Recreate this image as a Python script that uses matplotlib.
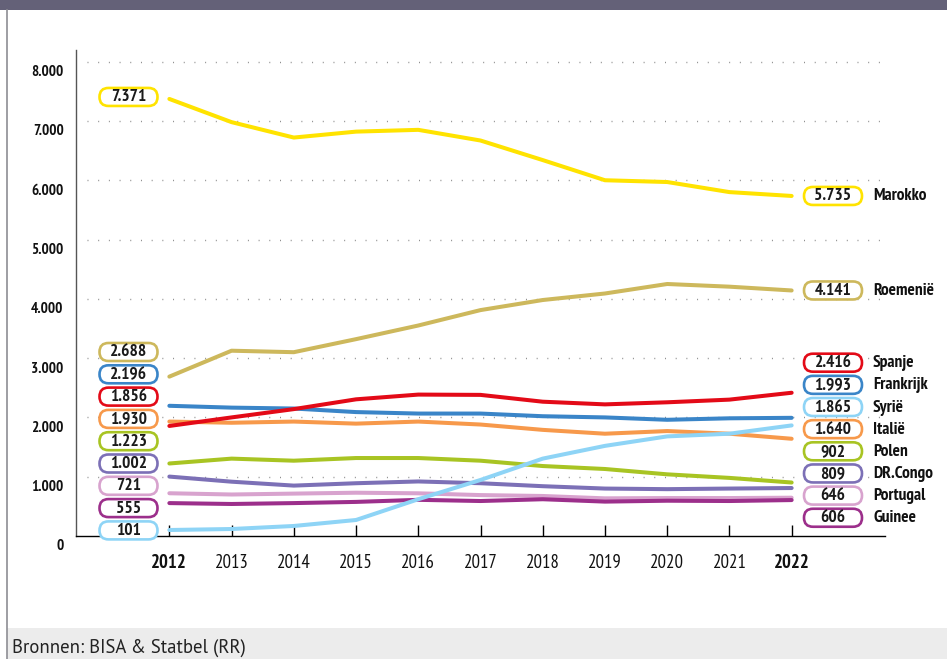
import matplotlib
matplotlib.use("Agg")
import matplotlib.pyplot as plt
from matplotlib.patches import FancyBboxPatch, Rectangle
from matplotlib.lines import Line2D
from matplotlib.transforms import IdentityTransform, ScaledTranslation

plt.rcParams['font.family'] = ['PT Sans Narrow', 'Roboto Condensed', 'DejaVu Sans']

years = list(range(2012, 2023))

marokko = [7371, 6980, 6720, 6820, 6850, 6670, 6340, 6000, 5970, 5800, 5735]
roemenie = [2688, 3125, 3100, 3320, 3550, 3810, 3980, 4090, 4250, 4205, 4141]
frankrijk = [2196, 2165, 2150, 2090, 2065, 2065, 2020, 2000, 1960, 1985, 1993]
italie = [1930, 1910, 1930, 1895, 1930, 1880, 1790, 1725, 1770, 1725, 1640]
spanje = [1856, 2000, 2140, 2305, 2385, 2380, 2265, 2220, 2255, 2300, 2416]
polen = [1223, 1305, 1270, 1315, 1315, 1270, 1180, 1130, 1040, 980, 902]
congo = [1002, 916, 850, 890, 920, 890, 840, 800, 790, 800, 809]
portugal = [721, 700, 715, 730, 720, 690, 675, 635, 640, 640, 646]
guinee = [555, 540, 555, 575, 610, 590, 620, 580, 595, 590, 606]
syrie = [101, 118, 169, 270, 620, 945, 1305, 1520, 1680, 1725, 1865]

# name -> (values, colour), in drawing order (last on top)
series = {
    "Marokko": (marokko, "#FFE300"),
    "Roemenië": (roemenie, "#CDB85C"),
    "Frankrijk": (frankrijk, "#3A85C8"),
    "Italië": (italie, "#F7994B"),
    "Spanje": (spanje, "#E30A17"),
    "Polen": (polen, "#A8C423"),
    "DR.Congo": (congo, "#7C70B6"),
    "Portugal": (portugal, "#D8A3CE"),
    "Guinee": (guinee, "#9C2F8B"),
    "Syrië": (syrie, "#8ED4F6"),
}

# stacked label order on each side
left_stack = ["Roemenië", "Frankrijk", "Spanje", "Italië", "Polen",
              "DR.Congo", "Portugal", "Guinee", "Syrië"]
right_stack = ["Spanje", "Frankrijk", "Syrië", "Italië", "Polen",
               "DR.Congo", "Portugal", "Guinee"]

yticks = [0, 1000, 2000, 3000, 4000, 5000, 6000, 7000, 8000]

W, H = 947, 659
fig = plt.figure(figsize=(W / 100, H / 100), dpi=100)
fig.patch.set_facecolor("white")

# frame decoration: header bar, left rule, footer band
fig.add_artist(Rectangle((0, H - 9.5), W, 9.5, transform=IdentityTransform(),
                         facecolor="#646178", edgecolor="none"))
fig.add_artist(Rectangle((7, 0), W - 7, 31, transform=IdentityTransform(),
                         facecolor="#ECECEC", edgecolor="none"))
fig.add_artist(Line2D([6.5, 6.5], [0, H - 9.5], transform=IdentityTransform(),
                      color="#8E8E94", lw=1.2))
fig.text(12, 6, "Bronnen: BISA & Statbel (RR)", transform=IdentityTransform(),
         fontsize=13.5, family=["PT Sans", "DejaVu Sans"], color="#222222",
         va="baseline")

ax = fig.add_axes([76 / W, (H - 536) / H, (885 - 76) / W, (536 - 49.8) / H])
ax.set_xlim(2010.5, 2023.5)
ax.set_ylim(0, 8200)

ax.hlines(yticks[1:], 2010.68, 2023.47, colors="#8C8C8C",
          linestyles=(0, (0.7, 7.0)), lw=1.0, zorder=1)

for name, (vals, col) in series.items():
    ax.plot(years, vals, color=col, lw=2.9, solid_capstyle="round",
            solid_joinstyle="round", zorder=3)

for side in ("top", "right"):
    ax.spines[side].set_visible(False)
ax.spines["left"].set_color("#555555")
ax.spines["left"].set_linewidth(1.0)
ax.spines["bottom"].set_color("black")
ax.spines["bottom"].set_linewidth(1.0)

ax.set_yticks(yticks)
ax.set_yticklabels([f"{v:,}".replace(",", ".") for v in yticks],
                   fontsize=11, fontweight="bold", color="#111111")
ax.tick_params(axis="y", length=0, pad=9)
shift = ScaledTranslation(0, -9 / 100, fig.dpi_scale_trans)
for lbl in ax.get_yticklabels():
    lbl.set_transform(lbl.get_transform() + shift)

ax.set_xticks(years)
ax.set_xticklabels([str(y) for y in years], fontsize=13.5, color="#111111")
for lbl in ax.get_xticklabels():
    if lbl.get_text() in ("2012", "2022"):
        lbl.set_fontweight("bold")
ax.tick_params(axis="x", direction="in", length=8, width=1.0, color="black", pad=13)


def fmt(v):
    return f"{v:,}".replace(",", ".")


def pill(xc, yc, text, color):
    w, h = 58, 18
    fig.add_artist(FancyBboxPatch((xc - w / 2, yc - h / 2), w, h,
                                  boxstyle="round,pad=0,rounding_size=9",
                                  transform=IdentityTransform(),
                                  facecolor="white", edgecolor=color, lw=1.9,
                                  zorder=5))
    fig.text(xc, yc - 0.5, text, transform=IdentityTransform(), ha="center",
             va="center", fontsize=12.5, fontweight="bold", color="#1a1a1a",
             zorder=6)


def to_px_y(v):
    return ax.transData.transform((2012, v))[1]


left_x, right_x, name_x = 128.5, 833, 873

# Marokko and Roemenië labelled at their own values
vals, col = series["Marokko"]
pill(left_x, to_px_y(vals[0]) + 2, fmt(vals[0]), col)
for name in ("Marokko", "Roemenië"):
    vals, col = series[name]
    yc = to_px_y(vals[-1])
    pill(right_x, yc, fmt(vals[-1]), col)
    fig.text(name_x, yc - 0.5, name, transform=IdentityTransform(), ha="left",
             va="center", fontsize=12.5, fontweight="bold", color="#111111")

# stacked labels
for i, name in enumerate(left_stack):
    vals, col = series[name]
    pill(left_x, H - (352 + 22.3 * i), fmt(vals[0]), col)

for i, name in enumerate(right_stack):
    vals, col = series[name]
    yc = H - (362.7 + 22.15 * i)
    pill(right_x, yc, fmt(vals[-1]), col)
    fig.text(name_x, yc - 0.5, name, transform=IdentityTransform(), ha="left",
             va="center", fontsize=12.5, fontweight="bold", color="#111111")

fig.savefig("out.png", dpi=100)
